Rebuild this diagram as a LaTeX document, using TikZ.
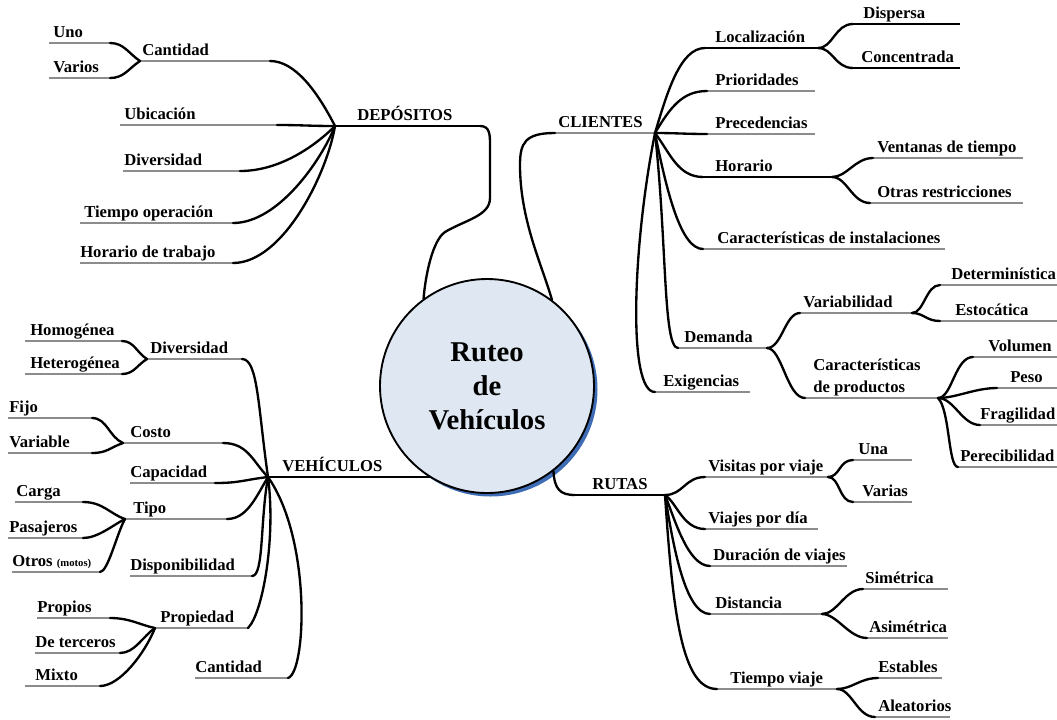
\documentclass[tikz,border=0pt]{standalone}
\usepackage{fontspec}
\setmainfont{Liberation Serif}
\usetikzlibrary{calc}

\definecolor{ulgray}{HTML}{8C8C8C}
\definecolor{corefill}{HTML}{DFE7F2}
\definecolor{coreshade}{HTML}{3E6DB5}

\tikzset{
  ul/.style={draw=ulgray, line width=2.2pt},
  ulk/.style={draw=black, line width=2.2pt},
  conn/.style={draw=black, line width=1.75pt, line cap=round},
  lbl/.style={anchor=base west, inner sep=0pt, font=\fontsize{12.5}{15}\selectfont\bfseries},
}

% \topic[style]{name}{x left}{x right}{y}{label x}{label}
\newcommand\topic[7][ul]{%
  \coordinate (#2-l) at (#3,#5);
  \coordinate (#2-r) at (#4,#5);
  \draw[#1] (#2-l) -- (#2-r);
  \node[lbl] (#2) at (#6,#5-6) {#7};
}
% \lnk{from}{to}{first control offset}{second control offset}
\newcommand\lnk[4]{\draw[conn] (#1) .. controls +(#3) and +(#4) .. (#2);}

\begin{document}
\begin{tikzpicture}[x=0.75pt, y=-0.75pt]
\clip (0,0) rectangle (1057,719);
\fill[white] (0,0) rectangle (1057,719);

% central topic
\fill[coreshade] (490.5,389.5) circle[radius=80.25pt];
\node[circle, draw=black, line width=1.4pt, fill=corefill, minimum size=160.5pt,
      inner sep=0pt, align=center, font=\fontsize{21.5}{25.5}\selectfont\bfseries]
  (core) at (487,386) {Ruteo\\de\\Vehículos};

% ---------------- DEPÓSITOS ----------------
\topic[ulk]{dep}{335}{480}{126}{357}{DEPÓSITOS}
\topic{dcant}{140}{270}{61}{142}{Cantidad}
\topic{uno}{49}{110}{43}{53}{Uno}
\topic{varios}{49}{110}{78}{53}{Varios}
\topic{ubic}{120}{277}{125}{124}{Ubicación}
\topic{ddiv}{123}{240}{171}{124}{Diversidad}
\topic{tope}{80}{233}{223}{84}{Tiempo operación}
\topic{htra}{80}{233}{263}{80}{Horario de trabajo}

\coordinate (dep-k1) at (490,145);
\coordinate (dep-k2) at (490,198);
\coordinate (dep-k3) at (445,232);
\draw[conn] (dep-r) .. controls +(10,0) and +(0,-10) .. (dep-k1) -- (dep-k2)
  .. controls +(0,18) and +(20,-12) .. (dep-k3)
  .. controls +(-12,8) and +(2,-25) .. (core.126);

\lnk{dcant-r}{dep-l}{25,0}{-18,-35}
\lnk{uno-r}{dcant-l}{14,0}{-12,-8}
\lnk{varios-r}{dcant-l}{14,0}{-12,8}
\lnk{ubic-r}{dep-l}{25,0}{-25,0}
\lnk{ddiv-r}{dep-l}{40,0}{-20,20}
\lnk{tope-r}{dep-l}{45,0}{-14,35}
\lnk{htra-r}{dep-l}{50,0}{-8,48}

% ---------------- CLIENTES ----------------
\topic{cli}{555}{655}{133}{558}{CLIENTES}
\topic[ulk]{loc}{705}{818}{48}{715}{Localización}
\topic[ulk]{disp}{853}{960}{24}{863}{Dispersa}
\topic[ulk]{conc}{853}{960}{68}{861}{Concentrada}
\topic{prio}{707}{815}{91}{715}{Prioridades}
\topic{prec}{707}{815}{134}{715}{Precedencias}
\topic[ulk]{hora}{703}{832}{177}{715}{Horario}
\topic{vent}{873}{1023}{158}{877}{Ventanas de tiempo}
\topic{otras}{870}{1023}{203}{877}{Otras restricciones}
\topic{cari}{703}{945}{249}{717}{Características de instalaciones}
\topic{dem}{678}{767}{348}{684}{Demanda}
\topic{vari}{800}{912}{313}{803}{Variabilidad}
\topic{det}{940}{1057}{285}{951}{Determinística}
\topic{esto}{940}{1057}{321}{955}{Estocática}
\coordinate (carp-l) at (805,398);
\coordinate (carp-r) at (938,398);
\draw[ul] (carp-l) -- (carp-r);
\node[lbl, anchor=south west, align=left, font=\fontsize{12.5}{16}\selectfont\bfseries]
  (carp) at (813,396) {Características\\de productos};
\topic{vol}{973}{1057}{357}{988}{Volumen}
\topic{peso}{997}{1057}{388}{1010}{Peso}
\topic{frag}{980}{1057}{425}{980}{Fragilidad}
\topic{pere}{958}{1057}{467}{960}{Perecibilidad}
\topic{exig}{655}{750}{392}{663}{Exigencias}

\coordinate (cli-k1) at (520,165);
\draw[conn] (cli-l) .. controls +(-30,0) and +(0,-22) .. (cli-k1)
  .. controls +(0,55) and +(-10,-35) .. (core.53);

\lnk{cli-r}{loc-l}{12,-40}{-25,0}
\lnk{loc-r}{disp-l}{15,0}{-18,0}
\lnk{loc-r}{conc-l}{15,0}{-18,0}
\lnk{cli-r}{prio-l}{15,-25}{-25,0}
\lnk{cli-r}{prec-l}{20,0}{-20,0}
\lnk{cli-r}{hora-l}{15,20}{-25,0}
\lnk{hora-r}{vent-l}{15,0}{-18,0}
\lnk{hora-r}{otras-l}{15,0}{-18,0}
\lnk{cli-r}{cari-l}{12,60}{-22,0}
\lnk{cli-r}{dem-l}{12,110}{-15,0}
\lnk{dem-r}{vari-l}{15,0}{-15,0}
\lnk{vari-r}{det-l}{12,0}{-14,0}
\lnk{vari-r}{esto-l}{12,0}{-14,0}
\lnk{dem-r}{carp-l}{15,0}{-18,0}
\lnk{carp-r}{vol-l}{14,0}{-18,0}
\lnk{carp-r}{peso-l}{18,0}{-22,0}
\lnk{carp-r}{frag-l}{16,0}{-18,0}
\lnk{carp-r}{pere-l}{12,12}{-10,0}
\lnk{cli-r}{exig-l}{-22,110}{-28,0}

% ---------------- RUTAS ----------------
\topic[ulk]{rut}{575}{665}{495}{592}{RUTAS}
\topic{visi}{705}{828}{477}{708}{Visitas por viaje}
\topic{una}{853}{912}{460}{858}{Una}
\topic{varias}{853}{912}{502}{862}{Varias}
\topic{vpd}{705}{818}{529}{708}{Viajes por día}
\topic{dur}{710}{847}{566}{713}{Duración de viajes}
\topic{dist}{710}{822}{614}{715}{Distancia}
\topic{sim}{863}{948}{589}{865}{Simétrica}
\topic{asim}{867}{948}{638}{869}{Asimétrica}
\topic{tv}{717}{837}{689}{730}{Tiempo viaje}
\topic{est}{878}{942}{678}{878}{Estables}
\topic{alea}{875}{950}{717}{878}{Aleatorios}

\draw[conn] (core.-52) .. controls +(1,18) and +(-15,0) .. (rut-l);

\lnk{rut-r}{visi-l}{18,0}{-20,0}
\lnk{visi-r}{una-l}{12,0}{-14,0}
\lnk{visi-r}{varias-l}{12,0}{-14,0}
\lnk{rut-r}{vpd-l}{12,8}{-22,0}
\lnk{rut-r}{dur-l}{10,25}{-22,0}
\lnk{rut-r}{dist-l}{8,50}{-25,0}
\lnk{dist-r}{sim-l}{15,0}{-18,0}
\lnk{dist-r}{asim-l}{15,0}{-18,0}
\lnk{rut-r}{tv-l}{8,120}{-35,0}
\lnk{tv-r}{est-l}{15,0}{-18,0}
\lnk{tv-r}{alea-l}{15,0}{-18,0}

% ---------------- VEHÍCULOS ----------------
\topic[ulk]{veh}{268}{431}{477}{282}{VEHÍCULOS}
\topic{vdiv}{147}{242}{359}{150}{Diversidad}
\topic{homo}{25}{122}{341}{30}{Homogénea}
\topic{hete}{25}{122}{374}{30}{Heterogénea}
\topic{costo}{123}{223}{443}{130}{Costo}
\topic{fijo}{8}{92}{418}{9}{Fijo}
\topic{varb}{8}{92}{453}{9}{Variable}
\topic{capa}{130}{215}{483}{130}{Capacidad}
\topic{tipo}{125}{227}{519}{133}{Tipo}
\topic{carga}{15}{83}{502}{16}{Carga}
\topic{pasa}{8}{83}{538}{9}{Pasajeros}
\topic{otros}{12}{100}{572}{12}{Otros {\fontsize{8}{9}\selectfont(motos)}}
\topic{vdisp}{130}{252}{576}{130}{Disponibilidad}
\topic{prop}{155}{248}{628}{160}{Propiedad}
\topic{propios}{37}{110}{618}{37}{Propios}
\topic{dter}{35}{120}{653}{35}{De terceros}
\topic{mixto}{25}{100}{686}{35}{Mixto}
\topic{vcant}{195}{288}{678}{195}{Cantidad}

\lnk{vdiv-r}{veh-l}{16,0}{-10,-70}
\lnk{homo-r}{vdiv-l}{12,0}{-10,-6}
\lnk{hete-r}{vdiv-l}{12,0}{-10,6}
\lnk{costo-r}{veh-l}{25,0}{-15,-15}
\lnk{fijo-r}{costo-l}{15,0}{-14,-6}
\lnk{varb-r}{costo-l}{15,0}{-14,5}
\lnk{capa-r}{veh-l}{25,0}{-25,3}
\lnk{tipo-r}{veh-l}{20,0}{-12,20}
\lnk{carga-r}{tipo-l}{20,0}{-15,-5}
\lnk{pasa-r}{tipo-l}{15,0}{-12,6}
\lnk{otros-r}{tipo-l}{8,0}{-8,14}
\lnk{vdisp-r}{veh-l}{12,0}{-8,45}
\lnk{prop-r}{veh-l}{15,-15}{8,60}
\lnk{propios-r}{prop-l}{20,0}{-15,-3}
\lnk{dter-r}{prop-l}{15,0}{-12,8}
\lnk{mixto-r}{prop-l}{20,0}{-10,25}
\lnk{vcant-r}{veh-l}{18,-5}{44,63}
\end{tikzpicture}
\end{document}
